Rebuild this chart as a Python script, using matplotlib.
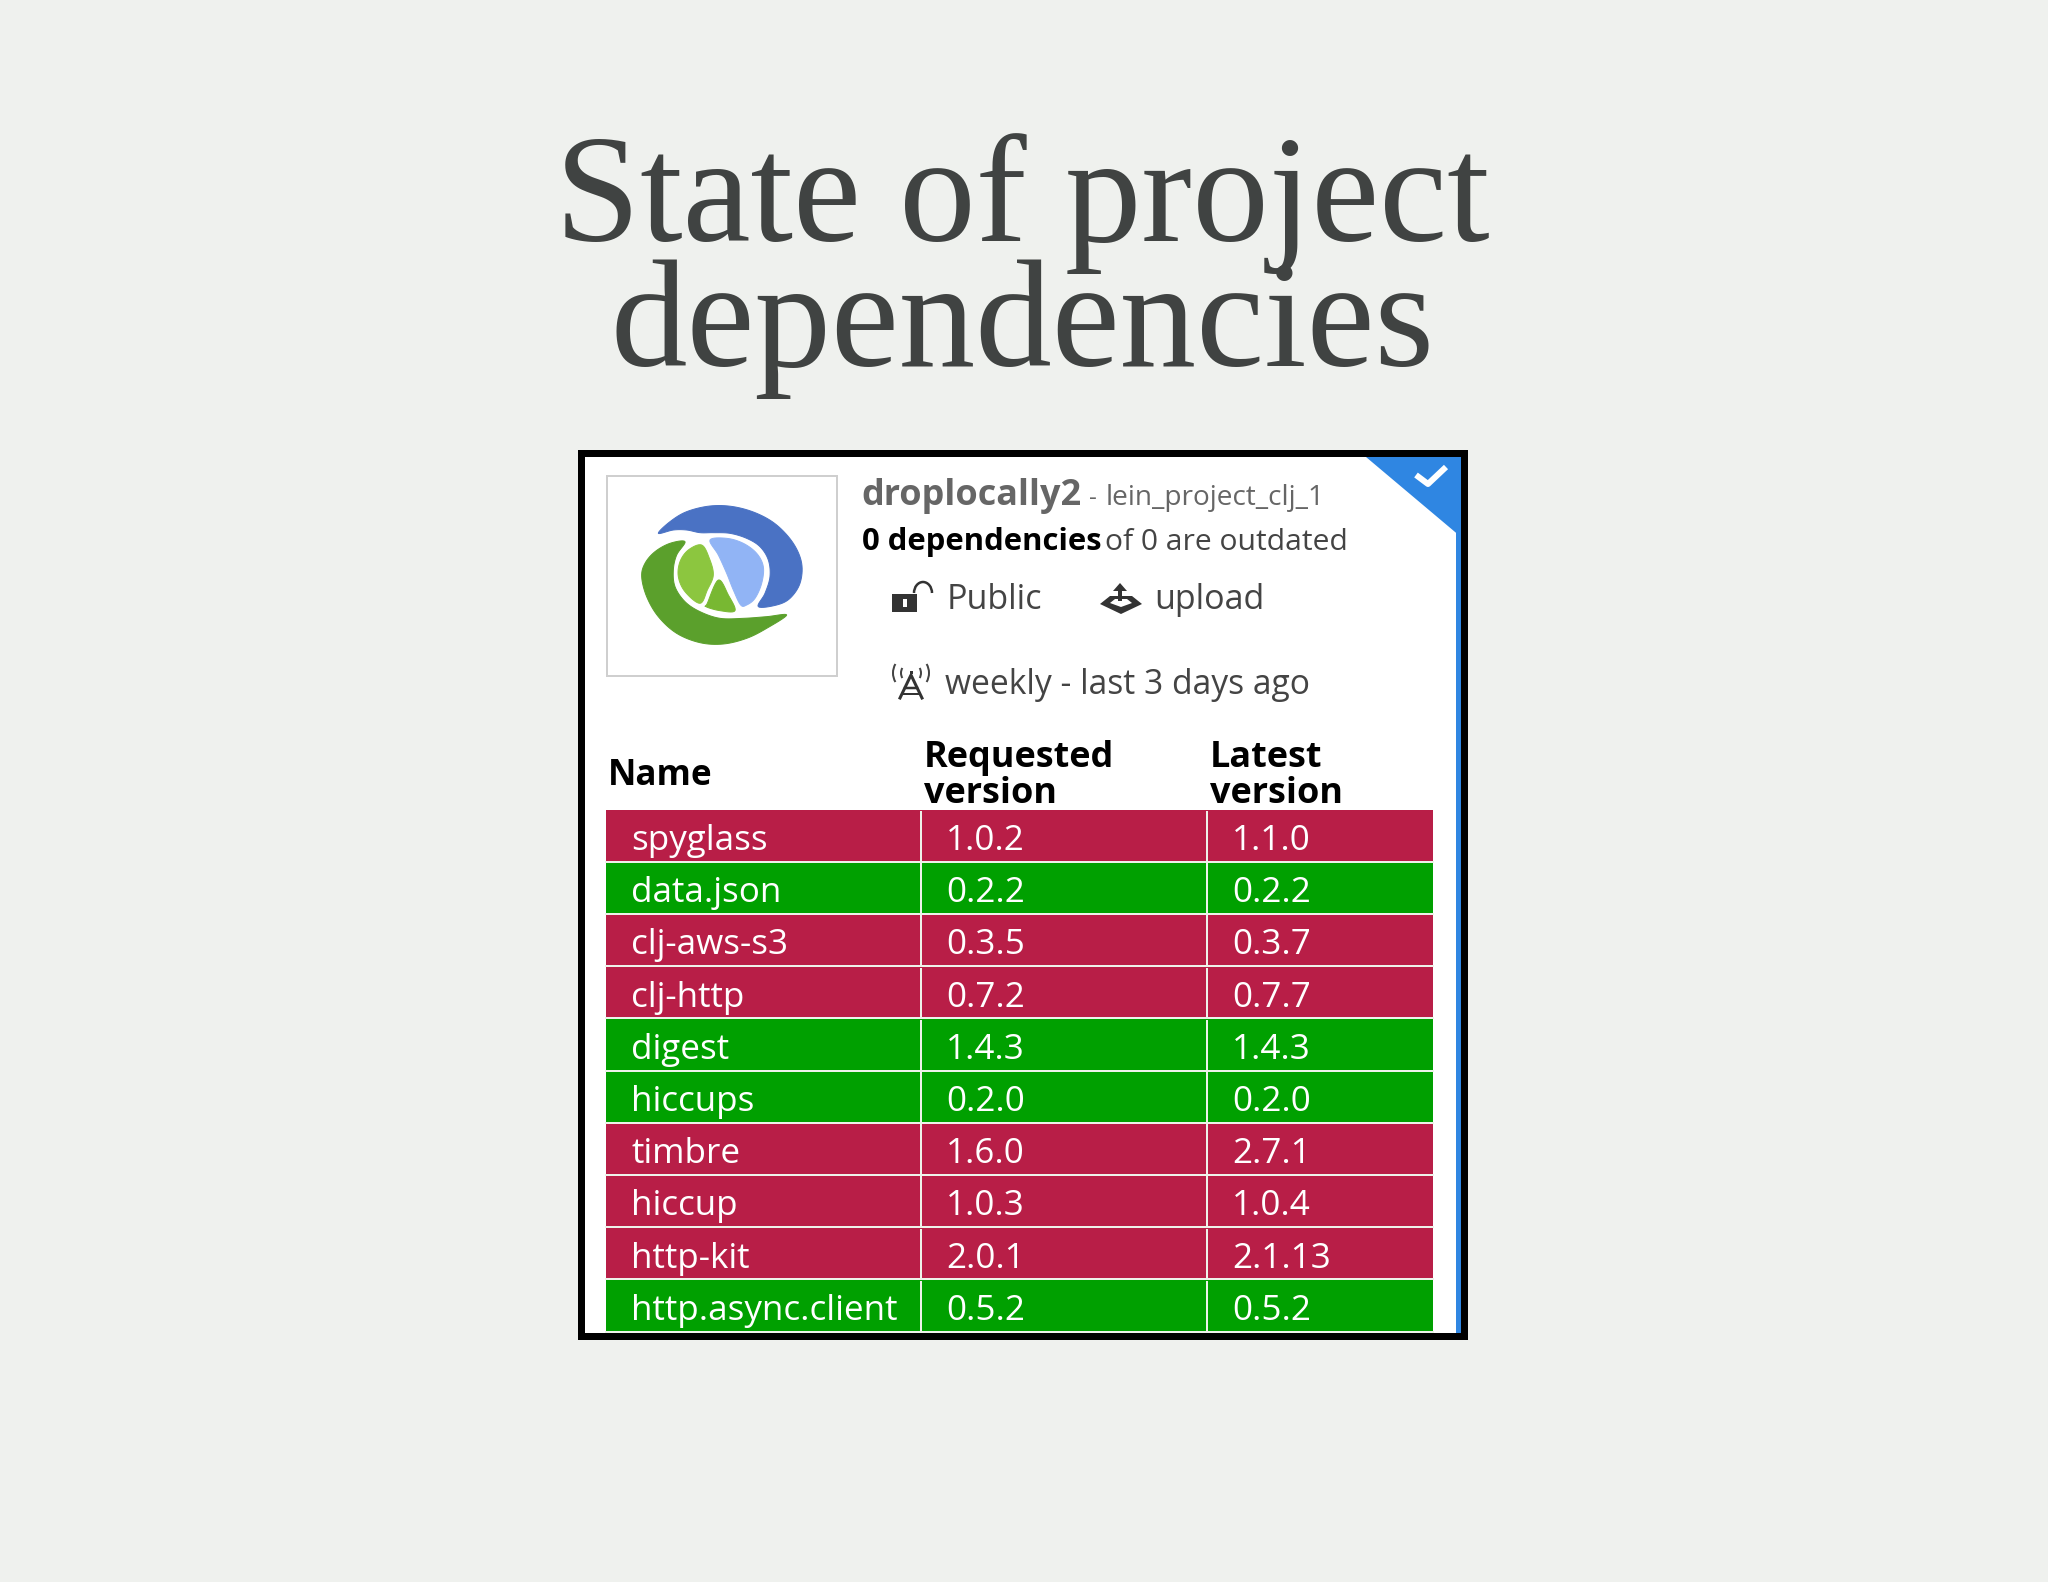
import matplotlib
matplotlib.use('Agg')
import matplotlib.pyplot as plt
import numpy as np
from matplotlib.patches import Rectangle, Polygon, Arc

# table content
names = ['spyglass', 'data.json', 'clj-aws-s3', 'clj-http', 'digest', 'hiccups',
         'timbre', 'hiccup', 'http-kit', 'http.async.client']
requested = ['1.0.2', '0.2.2', '0.3.5', '0.7.2', '1.4.3', '0.2.0', '1.6.0', '1.0.3', '2.0.1', '0.5.2']
latest = ['1.1.0', '0.2.2', '0.3.7', '0.7.7', '1.4.3', '0.2.0', '2.7.1', '1.0.4', '2.1.13', '0.5.2']
outdated = [True, False, True, True, False, False, True, True, True, False]

BG = '#eff1ee'
RED = '#b81e47'
GREEN = '#00a000'
BLUE = '#2f86e2'
SANS = 'Open Sans'

# logo outlines, traced on a 3x crop of the logo
logo_blue = [(115, 130), (150, 95), (200, 65), (270, 48), (340, 50), (410, 70), (470, 105), (520, 160),
             (545, 220), (540, 280), (510, 325), (470, 345), (415, 350), (435, 310), (450, 260), (445, 210),
             (420, 170), (380, 145), (330, 130), (280, 128), (240, 128), (200, 120), (160, 120)]
logo_green = [(195, 155), (150, 160), (105, 185), (75, 220), (65, 260), (80, 320), (115, 380), (170, 430),
              (240, 458), (310, 462), (380, 445), (440, 415), (500, 375), (440, 380), (370, 385), (300, 385),
              (240, 365), (195, 335), (165, 290), (160, 240), (170, 195)]
logo_light_blue = [(270, 150), (320, 145), (370, 160), (410, 190), (430, 230), (425, 280), (405, 325),
                   (380, 345), (362, 345), (340, 300), (320, 250), (295, 195)]
logo_light_green = [(245, 165), (205, 180), (180, 215), (175, 260), (195, 305), (240, 340), (262, 300),
                    (280, 255), (268, 205)]
logo_mid_green = [(295, 270), (262, 340), (258, 350), (300, 362), (345, 362), (325, 315)]


def pt(px):
    return px * 0.72


def logo_xy(points):
    # closed Catmull-Rom curve through the traced points, so the edges are not faceted
    p = np.array(points, dtype=float)
    out = []
    n = len(p)
    for i in range(n):
        p0, p1, p2, p3 = p[i - 1], p[i], p[(i + 1) % n], p[(i + 2) % n]
        for t in np.linspace(0, 1, 8, endpoint=False):
            out.append(0.5 * (2 * p1 + (p2 - p0) * t + (2 * p0 - 5 * p1 + 4 * p2 - p3) * t ** 2
                              + (3 * p1 - p0 - 3 * p2 + p3) * t ** 3))
    return np.array(out) / 3 + [620, 490]


fig = plt.figure(figsize=(20.48, 15.82), dpi=100, facecolor=BG)
ax = fig.add_axes([0, 0, 1, 1])
ax.set_xlim(0, 2048)
ax.set_ylim(1582, 0)
ax.axis('off')

# title
ax.text(1022, 241, 'State of project', family='Liberation Serif', fontsize=pt(153),
        color='#404342', ha='center', va='baseline')
ax.text(1022, 366, 'dependencies', family='Liberation Serif', fontsize=pt(153),
        color='#404342', ha='center', va='baseline')

# screenshot frame
ax.add_patch(Rectangle((578, 450), 890, 890, fc='black', ec='none'))
ax.add_patch(Rectangle((584.5, 457), 876.5, 876, fc='white', ec='none'))
ax.add_patch(Rectangle((1456, 457), 5, 876, fc=BLUE, ec='none'))
ax.add_patch(Polygon([(1366, 457), (1461, 457), (1461, 537)], fc=BLUE, ec='none'))
ax.plot([1416, 1428, 1446], [475, 484, 467], color='white', lw=pt(6), solid_capstyle='butt')

# logo
ax.add_patch(Rectangle((606.5, 475.5), 230, 200, fc='white', ec='#cfcfcf', lw=pt(2)))
for outline, col in [(logo_blue, '#4a72c4'), (logo_green, '#5ba02c'), (logo_light_blue, '#91b4f5'),
                     (logo_light_green, '#8cc63f'), (logo_mid_green, '#78b832')]:
    ax.add_patch(Polygon(logo_xy(outline), fc=col, ec=col, lw=pt(1), joinstyle='round'))

# header text
ax.text(861, 505, 'droplocally2', family=SANS, weight='bold', fontsize=pt(36), color='#666666', va='baseline')
ax.text(1089, 505, '-', family=SANS, fontsize=pt(24), color='#666666', va='baseline')
ax.text(1106, 505, 'lein_project_clj_1', family=SANS, fontsize=pt(28), color='#666666', va='baseline')
ax.text(862, 550, '0 dependencies', family=SANS, weight='bold', fontsize=pt(31), color='black', va='baseline')
ax.text(1105, 550, 'of 0 are outdated', family=SANS, fontsize=pt(30), color='#444444', va='baseline')
ax.text(947, 609, 'Public', family=SANS, fontsize=pt(34), color='#444444', va='baseline')
ax.text(1154, 609, 'upload', family=SANS, fontsize=pt(34), color='#444444', va='baseline')
ax.text(945, 694, 'weekly - last 3 days ago', family=SANS, fontsize=pt(33.7), color='#444444', va='baseline')

# lock icon
ax.add_patch(Rectangle((892, 594), 25, 18, fc='#333333', ec='none'))
ax.add_patch(Rectangle((902.5, 599), 4, 8, fc='white', ec='none'))
ax.add_patch(Arc((923, 593), 18, 22, theta1=180, theta2=360, ec='#333333', lw=pt(2.5)))

# upload icon
ax.add_patch(Polygon([(1120, 583), (1127, 591), (1113, 591)], fc='#333333', ec='none'))
ax.add_patch(Polygon([(1100, 604), (1110, 596), (1132, 596), (1142, 604), (1121, 614)],
                     fc='#333333', ec='none'))
ax.add_patch(Polygon([(1110, 603), (1115, 599), (1127, 599), (1132, 603), (1121, 607)],
                     fc='white', ec='none'))
ax.add_patch(Rectangle((1118, 590), 4, 11, fc='#333333', ec='none'))

# antenna icon
ax.plot([900, 911, 922], [698, 675, 698], color='#333333', lw=pt(3))
ax.plot([905, 917], [688, 688], color='#333333', lw=pt(2.5))
ax.plot([902, 920], [694, 694], color='#333333', lw=pt(2))
ax.add_patch(Rectangle((909.5, 671), 3, 3, fc='#333333', ec='none'))
for r in [10, 18]:
    ax.add_patch(Arc((911, 673), 2 * r, 2 * r, theta1=150, theta2=210, ec='#444444', lw=pt(2)))
    ax.add_patch(Arc((911, 673), 2 * r, 2 * r, theta1=330, theta2=30, ec='#444444', lw=pt(2)))

# table headings
ax.text(608, 785, 'Name', family=SANS, weight='bold', fontsize=pt(35), color='black', va='baseline')
ax.text(924, 767, 'Requested', family=SANS, weight='bold', fontsize=pt(36), color='black', va='baseline')
ax.text(924, 803, 'version', family=SANS, weight='bold', fontsize=pt(36), color='black', va='baseline')
ax.text(1210, 767, 'Latest', family=SANS, weight='bold', fontsize=pt(36), color='black', va='baseline')
ax.text(1210, 803, 'version', family=SANS, weight='bold', fontsize=pt(36), color='black', va='baseline')

# table rows
row_top = 810
row_h = 52.2
col_left = [606, 921, 1207]
col_right = [921, 1207, 1433]
text_x = [631, 946, 1232]
for i, name in enumerate(names):
    y = row_top + i * row_h
    color = RED if outdated[i] else GREEN
    cells = [name, requested[i], latest[i]]
    for j, cell in enumerate(cells):
        ax.add_patch(Rectangle((col_left[j], y), col_right[j] - col_left[j], row_h, fc=color, ec='none'))
        ax.text(text_x[j], y + 40, cell, family=SANS, fontsize=pt(35), color='white', va='baseline')
    ax.plot([606, 1433], [y + row_h - 0.5] * 2, color='#eef2ea', lw=pt(2), zorder=3)
    ax.plot([921, 921], [y + 2, y + row_h - 1], color='#eef2ea', lw=pt(2), zorder=3)
    ax.plot([1207, 1207], [y + 2, y + row_h - 1], color='#eef2ea', lw=pt(2), zorder=3)

fig.savefig('out.png', dpi=100, facecolor=BG)
